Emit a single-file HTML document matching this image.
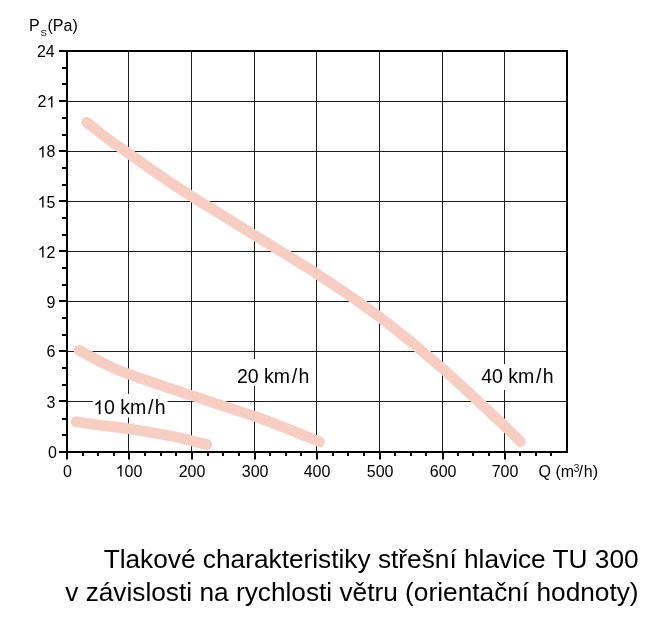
<!DOCTYPE html>
<html><head><meta charset="utf-8"><style>
html,body{margin:0;padding:0;background:#fff;width:662px;height:626px;overflow:hidden;font-family:"Liberation Sans",sans-serif}
</style></head><body>
<svg width="662" height="626" viewBox="0 0 662 626" style="position:absolute;left:0;top:0;will-change:transform">
<rect width="662" height="626" fill="#fff"/>
<path d="M128.5,52V451M191.5,52V451M254.5,52V451M316.5,52V451M379.5,52V451M442.5,52V451M504.5,52V451M68,101.5H566M68,151.5H566M68,201.5H566M68,251.5H566M68,301.5H566M68,351.5H566M68,401.5H566" stroke="#1c1c1c" stroke-width="1" fill="none"/>
<path d="M59,101H67M59,151H67M59,201H67M59,251H67M59,301H67M59,351H67M59,401H67M59,51H67M59,452H67" stroke="#000" stroke-width="2" fill="none"/>
<path d="M62,435H67M62,419H67M62,385H67M62,368H67M62,335H67M62,318H67M62,285H67M62,268H67M62,235H67M62,218H67M62,185H67M62,168H67M62,135H67M62,118H67M62,84H67M62,68H67" stroke="#000" stroke-width="2" fill="none"/>
<path d="M129,452V459.5M192,452V459.5M255,452V459.5M317,452V459.5M380,452V459.5M443,452V459.5M505,452V459.5M67,452V459.5" stroke="#000" stroke-width="2" fill="none"/>
<path d="M83,452V456M98,452V456M114,452V456M145,452V456M161,452V456M176,452V456M208,452V456M223,452V456M239,452V456M270,452V456M286,452V456M301,452V456M333,452V456M348,452V456M364,452V456M395,452V456M411,452V456M426,452V456M458,452V456M473,452V456M489,452V456M520,452V456M536,452V456M551,452V456" stroke="#000" stroke-width="2" fill="none"/>
<rect x="67" y="51" width="500" height="401" stroke="#000" stroke-width="2" fill="none"/>
<rect x="92.8" y="393.8" width="74.8" height="23.7" fill="#fff"/>
<rect x="234" y="359" width="78" height="27" fill="#fff"/>
<rect x="479" y="364" width="78" height="26" fill="#fff"/>
<path d="M86.60,122.30 C94.40,128.33 103.02,135.23 110.00,140.40 C116.98,145.57 120.17,147.45 128.50,153.30 C136.83,159.15 149.50,168.35 160.00,175.50 C170.50,182.65 175.73,186.23 191.50,196.20 C207.27,206.17 233.77,222.40 254.60,235.30 C275.43,248.20 295.67,259.97 316.50,273.60 C337.33,287.23 358.58,301.23 379.60,317.10 C400.62,332.97 421.78,350.65 442.60,368.80 C463.42,386.95 491.55,413.87 504.50,426.00 C517.45,438.13 515.03,436.40 520.30,441.60" stroke="#f8cdc2" stroke-width="10.6" stroke-linecap="round" stroke-linejoin="round" fill="none"/>
<path d="M79.10,350.30 C87.73,354.83 96.77,359.95 105.00,363.90 C113.23,367.85 114.08,368.72 128.50,374.00 C142.92,379.28 170.48,388.55 191.50,395.60 C212.52,402.65 238.18,410.62 254.60,416.30 C271.02,421.98 279.68,425.65 290.00,429.70 C300.32,433.75 311.58,438.60 316.50,440.60 C321.42,442.60 318.50,441.33 319.50,441.70" stroke="#f8cdc2" stroke-width="10.6" stroke-linecap="round" stroke-linejoin="round" fill="none"/>
<path d="M75.90,421.80 C84.60,423.07 93.23,424.45 102.00,425.60 C110.77,426.75 116.33,426.83 128.50,428.70 C140.67,430.57 164.50,434.78 175.00,436.80 C185.50,438.82 186.18,439.52 191.50,440.80 C196.82,442.08 201.77,443.27 206.90,444.50" stroke="#f8cdc2" stroke-width="10.6" stroke-linecap="round" stroke-linejoin="round" fill="none"/>
<g font-family="Liberation Sans, sans-serif" font-size="16" fill="#000" text-anchor="end">
<text x="54.70" y="57.10" text-anchor="end">24</text>
<text x="55.40" y="107.40" text-anchor="end">2 </text>
<text x="55.40" y="157.40" text-anchor="end"> 8</text>
<text x="55.40" y="207.50" text-anchor="end"> 5</text>
<text x="55.40" y="257.50" text-anchor="end"> 2</text>
<text x="55.40" y="307.50" text-anchor="end">9</text>
<text x="55.40" y="357.40" text-anchor="end">6</text>
<text x="55.40" y="407.50" text-anchor="end">3</text>
<text x="56.90" y="458.10" text-anchor="end">0</text>
</g>
<g font-family="Liberation Sans, sans-serif" font-size="16" fill="#000" text-anchor="middle">
<text x="67.50" y="476.50" text-anchor="middle">0</text>
<text x="129.00" y="476.50" text-anchor="middle"> 00</text>
<text x="192.00" y="476.50" text-anchor="middle">200</text>
<text x="255.10" y="476.50" text-anchor="middle">300</text>
<text x="317.00" y="476.50" text-anchor="middle">400</text>
<text x="380.10" y="476.50" text-anchor="middle">500</text>
<text x="443.10" y="476.50" text-anchor="middle">600</text>
<text x="505.00" y="476.50" text-anchor="middle">700</text>
</g>
<text font-family="Liberation Sans, sans-serif" font-size="16" fill="#000" x="538.5" y="476.5">Q (m<tspan font-size="10" dy="-4.5" dx="-0.4">3</tspan><tspan dy="4.5" dx="-0.8">/</tspan><tspan dx="0.9">h)</tspan></text>
<text font-family="Liberation Sans, sans-serif" font-size="16" fill="#000" x="29" y="31.2">P<tspan font-size="9.6" x="40.6" dy="4.8">S</tspan><tspan x="47.5" dy="-4.8">(Pa)</tspan></text>
<g font-family="Liberation Sans, sans-serif" font-size="19.5" fill="#000">
<text x="236.9" y="382.8">20 km<tspan dx="1.8">/</tspan><tspan dx="1.2">h</tspan></text>
<text x="481.2" y="382.8">40 km<tspan dx="1.8">/</tspan><tspan dx="1.2">h</tspan></text>
<text x="93.2" y="414.2"> 0 km<tspan dx="1.8">/</tspan><tspan dx="1.2">h</tspan></text>
</g>
<g font-family="Liberation Sans, sans-serif" font-size="26.25" fill="#000" text-anchor="end">
<text x="638.6" y="567.5">Tlakové charakteristiky střešní hlavice TU 300</text>
<text x="638.6" y="600.5">v závislosti na rychlosti větru (orientační hodnoty)</text>
</g>
<g><path d="M763,0H583V1147Q518,1085 412.5,1023T223,930V1104Q374,1175 487,1276T647,1472H763Z" transform="translate(46.50,107.40) scale(0.007812,-0.007812)" fill="#000"/><path d="M763,0H583V1147Q518,1085 412.5,1023T223,930V1104Q374,1175 487,1276T647,1472H763Z" transform="translate(37.60,157.40) scale(0.007812,-0.007812)" fill="#000"/><path d="M763,0H583V1147Q518,1085 412.5,1023T223,930V1104Q374,1175 487,1276T647,1472H763Z" transform="translate(37.60,207.50) scale(0.007812,-0.007812)" fill="#000"/><path d="M763,0H583V1147Q518,1085 412.5,1023T223,930V1104Q374,1175 487,1276T647,1472H763Z" transform="translate(37.60,257.50) scale(0.007812,-0.007812)" fill="#000"/><path d="M763,0H583V1147Q518,1085 412.5,1023T223,930V1104Q374,1175 487,1276T647,1472H763Z" transform="translate(115.65,476.50) scale(0.007812,-0.007812)" fill="#000"/><path d="M763,0H583V1147Q518,1085 412.5,1023T223,930V1104Q374,1175 487,1276T647,1472H763Z" transform="translate(93.2,414.2) scale(0.009521,-0.009521)" fill="#000"/></g>
</svg>
</body></html>
